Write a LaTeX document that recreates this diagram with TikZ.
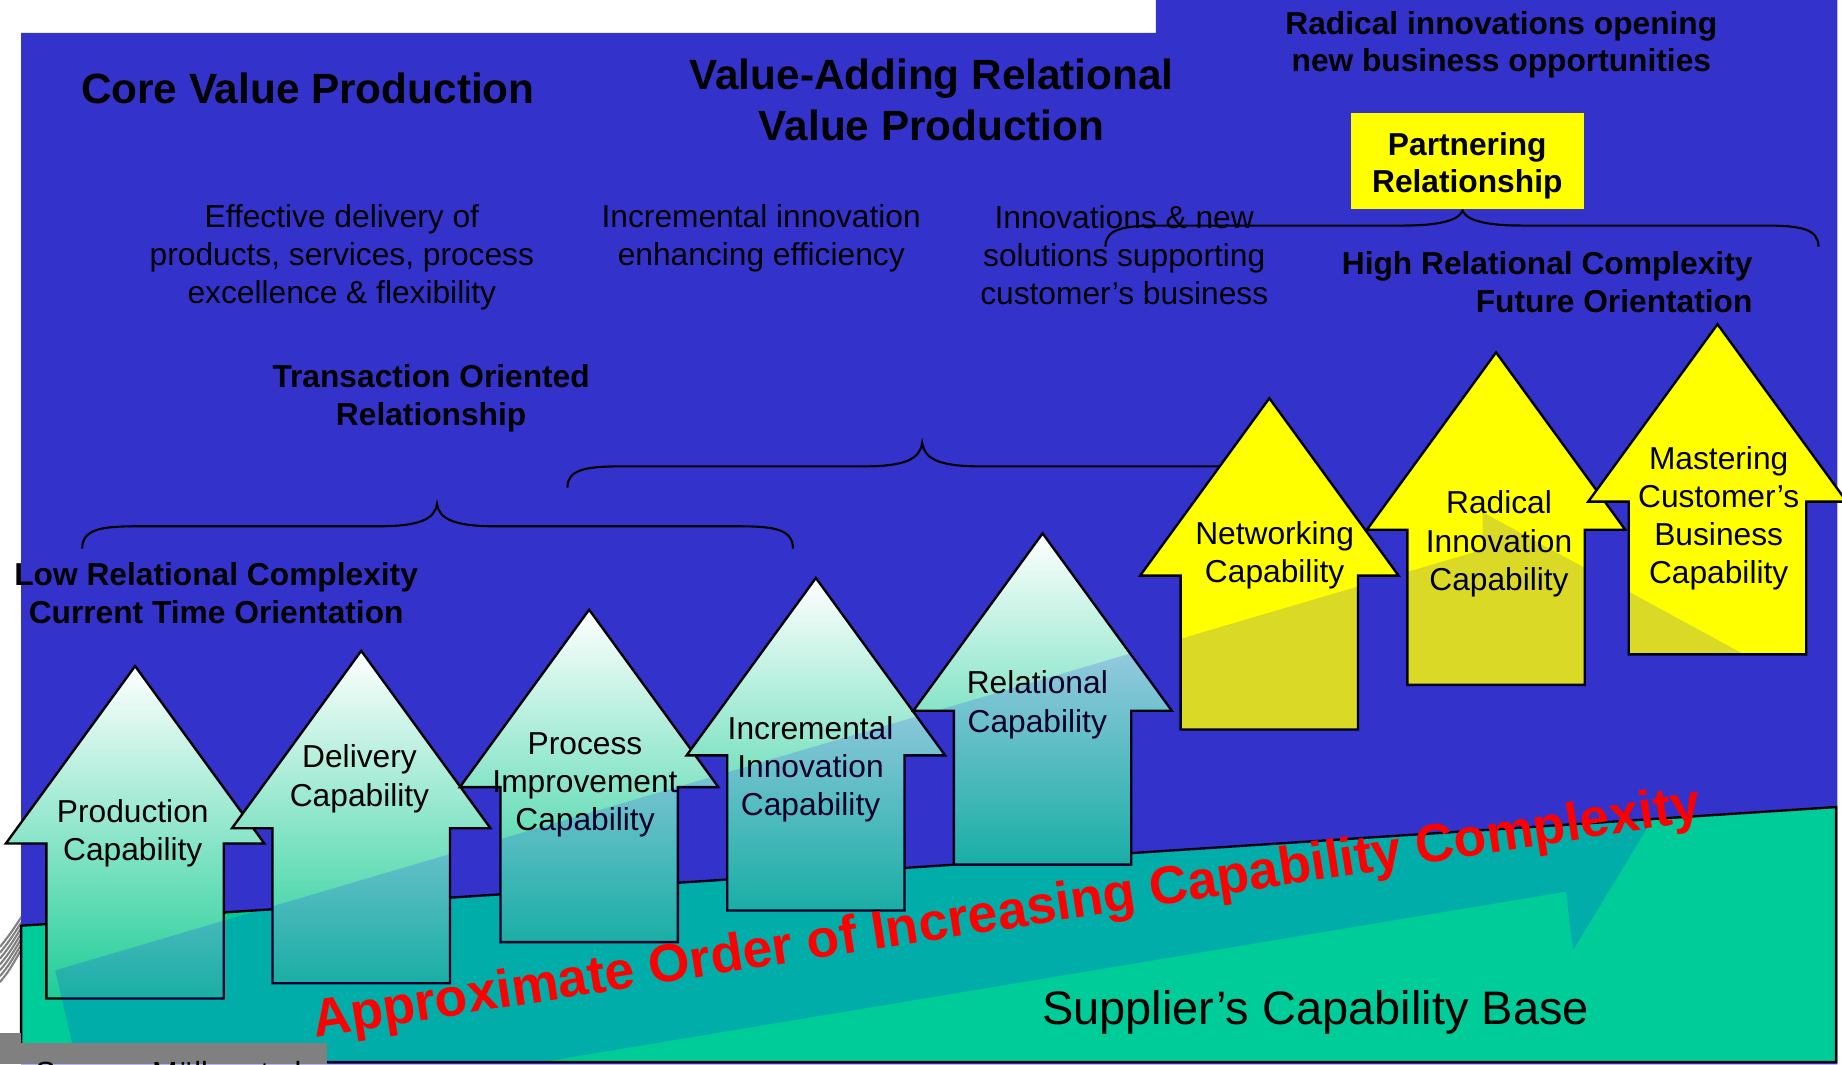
\documentclass[tikz,border=0pt]{standalone}
\usepackage{fontspec}
\setmainfont{Liberation Sans}
\definecolor{bgblue}{RGB}{51,51,204}
\definecolor{basegreen}{RGB}{0,204,153}
\definecolor{capgreen}{RGB}{30,205,150}
\definecolor{capyellow}{RGB}{255,255,0}
\definecolor{ovblue}{RGB}{0,0,255}
\definecolor{srcgray}{RGB}{128,128,128}
\newcommand\caparrow[3]{({#1},{#2}) -- ({#1+110},{#2+151}) -- ({#1+75.5},{#2+151}) -- ({#1+75.5},{#3}) -- ({#1-75.5},{#3}) -- ({#1-75.5},{#2+151}) -- ({#1-110},{#2+151}) -- cycle}
\newcommand\bracepath[6]{({#1},{#4}) .. controls ({#1},{#5+3}) and ({#1+15},{#5}) .. ({#1+45},{#5}) -- ({#2-50},{#5}) .. controls ({#2-15},{#5}) and ({#2-2},{#5-6}) .. ({#2},{#6}) .. controls ({#2+2},{#5-6}) and ({#2+15},{#5}) .. ({#2+50},{#5}) -- ({#3-45},{#5}) .. controls ({#3-15},{#5}) and ({#3},{#5+3}) .. ({#3},{#4})}
\newcommand\ovshape{(47,826) -- (1262,468) -- (1262,436) -- (1490,560) -- (1339,809) -- (1333,759) -- (462,904) -- (80,968) -- cycle}
\tikzset{
  outl/.style={draw=black, line width=2},
  gradarrow/.style={outl, top color=white, bottom color=capgreen},
  yelarrow/.style={outl, fill=capyellow},
  bracestyle/.style={draw=black, line width=1.8},
  captxt/.style={font=\fontsize{27}{32.5}\selectfont, align=center, inner sep=0pt, text=black},
  desctxt/.style={font=\fontsize{27}{32.5}\selectfont, align=center, inner sep=0pt},
  boldtxt/.style={font=\bfseries\fontsize{27}{32}\selectfont, align=center, inner sep=0pt},
  titletxt/.style={font=\bfseries\fontsize{36}{44}\selectfont, align=center, inner sep=0pt},
}
\begin{document}
\begin{tikzpicture}[x=1pt,y=-1pt,line join=miter]
\useasboundingbox (0,0) rectangle (1568,906);
\begin{scope}
\clip (0,0) rectangle (1568,906);
\fill[white] (0,0) rectangle (1568,906);
% background
\fill[bgblue] (18,28) -- (984,28) -- (984,0) -- (1564,0) -- (1564,906) -- (18,906) -- cycle;
% stray logo stripes at the left edge
\begin{scope}
\clip (0,772) rectangle (18,842);
\foreach \i in {0,...,6} \draw[srcgray, line width=1.8] (0,{806+5*\i}) .. controls (8,{796+5*\i}) .. (20,{778+4.5*\i});
\end{scope}
% supplier's capability base
\draw[outl, fill=basegreen] (18,788) -- (1563,687) -- (1563,904) -- (18,904) -- cycle;
% braces
\draw[bracestyle] \bracepath{70}{372}{675}{467}{448}{429};
\draw[bracestyle] \bracepath{483}{785}{1087}{415}{397}{377};
\draw[bracestyle] \bracepath{941}{1245}{1548}{210}{192}{179};
% capability arrows
\draw[gradarrow] \caparrow{115}{567}{850};
\node[captxt] (prod) at (113,709) {Production\\Capability};
\draw[gradarrow] \caparrow{307.5}{554}{837};
\node[captxt] (deliv) at (306,663) {Delivery\\Capability};
\draw[gradarrow] \caparrow{501.5}{519}{802};
\node[captxt] (proc) at (498,668) {Process\\Improvement\\Capability};
\draw[gradarrow] \caparrow{694.5}{492}{775};
\node[captxt] (incr) at (690,655) {Incremental\\Innovation\\Capability};
\draw[gradarrow] \caparrow{887.5}{454}{736};
\node[captxt] (rel) at (883,600) {Relational\\Capability};
\draw[yelarrow] \caparrow{1080.5}{339}{621};
\node[captxt] (netw) at (1085,473) {Networking\\Capability};
\draw[yelarrow] \caparrow{1273.5}{300}{583};
\node[captxt] (radi) at (1276,463) {Radical\\Innovation\\Capability};
\draw[yelarrow] \caparrow{1462}{276}{557};
\node[captxt] (mast) at (1463,441) {Mastering\\Customer’s\\Business\\Capability};
% translucent overlay arrow
\begin{scope}
\clip (18,788) -- (1563,687) -- (1563,904) -- (18,904) -- cycle
  \caparrow{115}{567}{850} \caparrow{307.5}{554}{837} \caparrow{501.5}{519}{802}
  \caparrow{694.5}{492}{775} \caparrow{887.5}{454}{736} \caparrow{1080.5}{339}{621}
  \caparrow{1273.5}{300}{583} \caparrow{1462}{276}{557};
\fill[ovblue, opacity=0.15] \ovshape;
\end{scope}
% source box
\fill[srcgray] (0,879) rectangle (18,906);
\fill[srcgray] (11,888) rectangle (278,906);
\node[font=\fontsize{26}{30}\selectfont, anchor=base west, inner sep=0pt] (src) at (30,922) {Source: Möller et al.};
% headings and labels
\node[titletxt, anchor=base] (core) at (262,88) {Core Value Production};
\node[titletxt] (vadd) at (793,85) {Value-Adding Relational\\Value Production};
\node[boldtxt] (radop) at (1278,38) {Radical innovations opening\\new business opportunities};
\fill[capyellow] (1150,96) rectangle (1348,178);
\node[boldtxt] (partner) at (1249,141) {Partnering\\Relationship};
\node[desctxt] (eff) at (291,219) {Effective delivery of\\products, services, process\\excellence \& flexibility};
\node[desctxt] (incinn) at (648,203) {Incremental innovation\\enhancing efficiency};
\node[desctxt] (innsol) at (957,217) {Innovations \& new\\solutions supporting\\customer’s business};
\node[boldtxt] (trans) at (367,339) {Transaction Oriented\\Relationship};
\node[boldtxt] (low) at (184,505) {Low Relational Complexity\\Current Time Orientation};
\node[boldtxt, align=right, anchor=east] (high) at (1492,240) {High Relational Complexity\\Future Orientation};
\node[font=\fontsize{40}{48}\selectfont, anchor=base west, inner sep=0pt] (base) at (887,872) {Supplier’s Capability Base};
\node[font=\bfseries\fontsize{45.4}{54}\selectfont, text=red, anchor=base west, inner sep=0pt, rotate=8.9] (order) at (268,883) {Approximate Order of Increasing Capability Complexity};
\end{scope}
\end{tikzpicture}
\end{document}
